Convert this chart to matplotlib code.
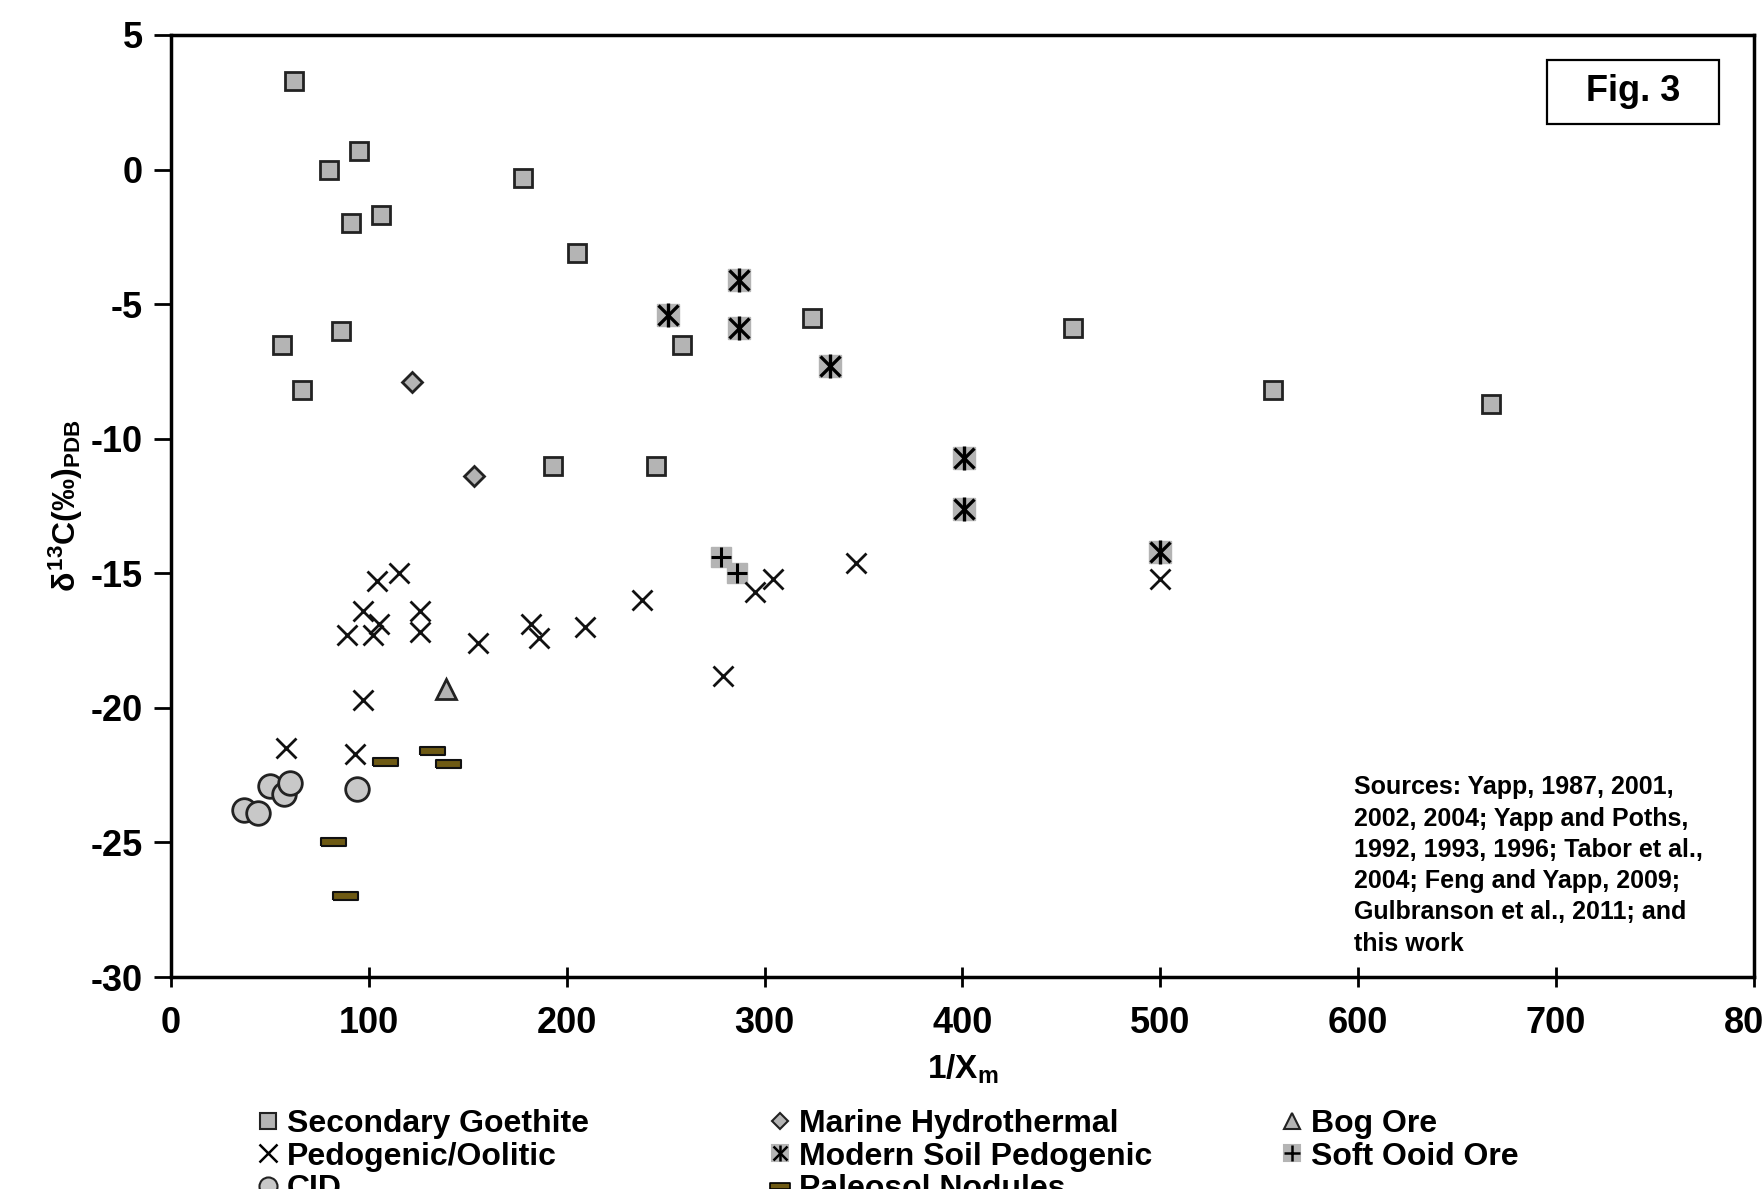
import matplotlib.pyplot as plt
from matplotlib.lines import Line2D
from matplotlib.patches import Rectangle

plt.rcParams['font.family'] = ['Liberation Sans', 'DejaVu Sans']
plt.rcParams['font.weight'] = 'bold'
plt.rcParams['axes.unicode_minus'] = False
plt.rcParams['mathtext.fontset'] = 'custom'
plt.rcParams['mathtext.rm'] = 'Liberation Sans:bold'
plt.rcParams['mathtext.bf'] = 'Liberation Sans:bold'
plt.rcParams['mathtext.it'] = 'Liberation Sans:bold'

# 데이터
goethite_x = [62, 80, 95, 91, 106, 178, 205, 56, 86, 66, 193, 245, 258, 324, 456, 557, 667]
goethite_y = [3.3, 0.0, 0.7, -2.0, -1.7, -0.3, -3.1, -6.5, -6.0, -8.2, -11.0, -11.0, -6.5, -5.5, -5.9, -8.2, -8.7]

pedo_x = [58, 89, 97, 104, 115, 102, 105, 126, 126, 97, 93, 155, 182, 186, 209, 238, 279, 295, 304, 346, 500]
pedo_y = [-21.5, -17.3, -16.4, -15.3, -15.0, -17.3, -16.9, -16.4, -17.2, -19.7, -21.7, -17.6, -16.9, -17.4, -17.0, -16.0, -18.8, -15.7, -15.2, -14.6, -15.2]

cid_x = [37, 44, 50, 57, 60, 94]
cid_y = [-23.8, -23.9, -22.9, -23.2, -22.8, -23.0]

marine_x = [122, 153]
marine_y = [-7.9, -11.4]

soil_x = [287, 251, 287, 333, 401, 401, 500]
soil_y = [-4.1, -5.4, -5.9, -7.3, -10.7, -12.6, -14.2]

paleosol_x = [108, 132, 140, 82, 88]
paleosol_y = [-22.0, -21.6, -22.1, -25.0, -27.0]

bog_x = [139]
bog_y = [-19.3]

ooid_x = [278, 286]
ooid_y = [-14.4, -15.0]

x_ticks = [0, 100, 200, 300, 400, 500, 600, 700, 800]
y_ticks = [5, 0, -5, -10, -15, -20, -25, -30]

sources = ("Sources: Yapp, 1987, 2001,\n2002, 2004; Yapp and Poths,\n1992, 1993, 1996; Tabor et al.,\n"
           "2004; Feng and Yapp, 2009;\nGulbranson et al., 2011; and\nthis work")

gray = '#b4b4b4'
lightgray = '#c8c8c8'
brown = '#6e5a14'
dash = [(-1, -0.28), (1, -0.28), (1, 0.28), (-1, 0.28), (-1, -0.28)]

fig = plt.figure(figsize=(17.65, 11.89), dpi=100)
ax = fig.add_axes([171 / 1765, 1 - 977 / 1189, (1754 - 171) / 1765, (977 - 35) / 1189])

ax.plot(goethite_x, goethite_y, ls='none', marker='s', ms=13, mfc=gray, mec='#222222', mew=2)
# 현대 토양: 회색 사각형 + 별표 (x 와 | 겹침)
ax.plot(soil_x, soil_y, ls='none', marker='s', ms=16, mfc=gray, mec=gray, mew=1)
ax.plot(soil_x, soil_y, ls='none', marker='x', ms=14, mec='k', mew=2.4)
ax.plot(soil_x, soil_y, ls='none', marker='|', ms=17, mec='k', mew=2.4)
ax.plot(ooid_x, ooid_y, ls='none', marker='s', ms=14, mfc=gray, mec=gray, mew=1)
ax.plot(ooid_x, ooid_y, ls='none', marker='+', ms=14, mec='k', mew=2.2)
ax.plot(marine_x, marine_y, ls='none', marker='D', ms=10, mfc=gray, mec='#222222', mew=2)
ax.plot(bog_x, bog_y, ls='none', marker='^', ms=15, mfc=gray, mec='#222222', mew=2)
ax.plot(pedo_x, pedo_y, ls='none', marker='x', ms=14, mec='#111111', mew=2)
ax.plot(cid_x, cid_y, ls='none', marker='o', ms=17, mfc=lightgray, mec='#222222', mew=2)
ax.plot(paleosol_x, paleosol_y, ls='none', marker=dash, ms=18, mfc=brown, mec='#111111', mew=1.5)

ax.set_xlim(0, 800)
ax.set_ylim(-30, 5)
ax.set_xticks(x_ticks)
ax.set_yticks(y_ticks)
ax.tick_params(axis='both', labelsize=26, width=2, colors='k')
ax.tick_params(axis='y', direction='out', length=12, pad=8)
ax.tick_params(axis='x', direction='inout', length=14, pad=14)
for s in ax.spines.values():
    s.set_linewidth(2.5)

ax.set_xlabel(r'$1/X_m$', fontsize=24, labelpad=8)
ax.set_ylabel(r'$δ^{13}C(‰)_{PDB}$', fontsize=23, labelpad=4)

# Fig. 3 상자
ax.add_patch(Rectangle((0.869, 0.906), 0.109, 0.067, transform=ax.transAxes,
                       fill=False, lw=1.6, ec='k', zorder=5))
ax.text(0.9235, 0.9395, 'Fig. 3', transform=ax.transAxes, fontsize=26,
        fontweight='bold', ha='center', va='center')

ax.text(0.747, 0.214, sources, transform=ax.transAxes, fontsize=18,
        fontweight='bold', ha='left', va='top', linespacing=1.38)

# 범례 (세 열)
def sq(c, ec):
    return Line2D([], [], ls='none', marker='s', ms=12, mfc=c, mec=ec, mew=1.5)

col1 = [(sq(gray, '#222222'), 'Secondary Goethite'),
        (Line2D([], [], ls='none', marker='x', ms=13, mec='k', mew=1.8), 'Pedogenic/Oolitic'),
        (Line2D([], [], ls='none', marker='o', ms=13, mfc=lightgray, mec='#222222', mew=1.5), 'CID')]
col2 = [(Line2D([], [], ls='none', marker='D', ms=8, mfc=gray, mec='#222222', mew=1.5), 'Marine Hydrothermal'),
        ((sq(gray, gray), Line2D([], [], ls='none', marker='x', ms=10, mec='k', mew=1.8),
          Line2D([], [], ls='none', marker='|', ms=12, mec='k', mew=1.8)), 'Modern Soil Pedogenic'),
        (Line2D([], [], ls='none', marker=dash, ms=14, mfc=brown, mec='k', mew=1.2), 'Paleosol Nodules')]
col3 = [(Line2D([], [], ls='none', marker='^', ms=11, mfc=gray, mec='#222222', mew=1.5), 'Bog Ore'),
        ((sq(gray, gray), Line2D([], [], ls='none', marker='+', ms=12, mec='k', mew=1.8)), 'Soft Ooid Ore')]

for xpos, col in zip([255 / 1765, 767 / 1765, 1279 / 1765], [col1, col2, col3]):
    leg = fig.legend([h for h, _ in col], [t for _, t in col], loc='upper left',
                     bbox_to_anchor=(xpos, 1 - 1109 / 1189), frameon=False,
                     prop={'size': 23, 'weight': 'bold'}, handlelength=0.8,
                     handletextpad=0.2, labelspacing=0.08, borderpad=0, borderaxespad=0)

fig.savefig('out.png', dpi=100)
